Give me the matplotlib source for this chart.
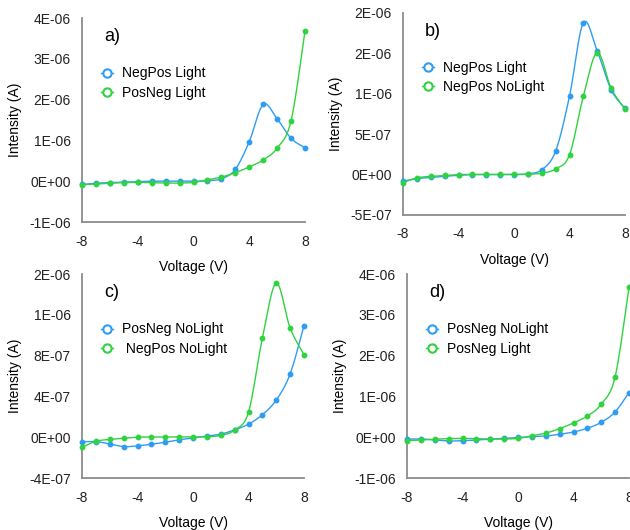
import numpy as np
import matplotlib
matplotlib.use("Agg")
import matplotlib.pyplot as plt
from matplotlib.lines import Line2D

plt.rcParams["font.family"] = ["Liberation Sans", "DejaVu Sans"]
plt.rcParams["axes.unicode_minus"] = False

# data (A)
voltage = np.arange(-8, 9, 1)
negpos_light = np.array([-0.08, -0.05, -0.035, -0.02, -0.01, 0.0, 0.0, 0.0, 0.0,
                         0.01, 0.06, 0.29, 0.97, 1.88, 1.53, 1.05, 0.82]) * 1e-6
negpos_nolight = np.array([-0.10, -0.04, -0.022, -0.01, 0.0, 0.002, 0.002, 0.002, 0.003,
                           0.004, 0.018, 0.07, 0.245, 0.97, 1.51, 1.07, 0.81]) * 1e-6
posneg_light = np.array([-0.085, -0.07, -0.05, -0.035, -0.03, -0.035, -0.045, -0.045, -0.03,
                         0.035, 0.10, 0.21, 0.35, 0.52, 0.81, 1.48, 3.68]) * 1e-6
posneg_nolight = np.array([-0.046, -0.043, -0.066, -0.092, -0.085, -0.069, -0.049, -0.026, -0.007,
                           0.01, 0.03, 0.072, 0.128, 0.22, 0.364, 0.62, 1.095]) * 1e-6

BLUE = "#2f9cf4"
GREEN = "#2fd23f"

panels = [
    # letter, series, legend labels, yticks, ytick labels, axes rect (px: left, top, right, bottom)
    ("a)", [negpos_light, posneg_light], ["NegPos Light", "PosNeg Light"],
     [-1e-6, 0, 1e-6, 2e-6, 3e-6, 4e-6],
     ["-1E-06", "0E+00", "1E-06", "2E-06", "3E-06", "4E-06"],
     (82, 18, 305, 222)),
    ("b)", [negpos_light, negpos_nolight], ["NegPos Light", "NegPos NoLight"],
     [-5e-7, 0, 5e-7, 1e-6, 1.5e-6, 2e-6],
     ["-5E-07", "0E+00", "5E-07", "1E-06", "2E-06", "2E-06"],
     (403, 13, 625, 215)),
    ("c)", [posneg_nolight, negpos_nolight], ["PosNeg NoLight", " NegPos NoLight"],
     [-4e-7, 0, 4e-7, 8e-7, 1.2e-6, 1.6e-6],
     ["-4E-07", "0E+00", "4E-07", "8E-07", "1E-06", "2E-06"],
     (82, 274, 304, 478)),
    ("d)", [posneg_nolight, posneg_light], ["PosNeg NoLight", "PosNeg Light"],
     [-1e-6, 0, 1e-6, 2e-6, 3e-6, 4e-6],
     ["-1E-06", "0E+00", "1E-06", "2E-06", "3E-06", "4E-06"],
     (407, 274, 629, 478)),
]


def smooth(x, y, n=20):
    # Excel-like smoothed line (Catmull-Rom between the measured points)
    xs, ys = [], []
    px = np.concatenate([[x[0]], x, [x[-1]]])
    py = np.concatenate([[y[0]], y, [y[-1]]])
    t = np.linspace(0, 1, n, endpoint=False)
    for i in range(1, len(px) - 2):
        p0, p1, p2, p3 = (np.array([px[j], py[j]]) for j in range(i - 1, i + 3))
        b1 = p1 + (p2 - p0) / 6
        b2 = p2 - (p3 - p1) / 6
        pts = ((1 - t) ** 3)[:, None] * p1 + (3 * (1 - t) ** 2 * t)[:, None] * b1 \
            + (3 * (1 - t) * t ** 2)[:, None] * b2 + (t ** 3)[:, None] * p2
        xs.extend(pts[:, 0])
        ys.extend(pts[:, 1])
    xs.append(x[-1])
    ys.append(y[-1])
    return np.array(xs), np.array(ys)


W, H = 630, 530
fig = plt.figure(figsize=(W / 100, H / 100), dpi=100)

for letter, series, labels, yt, ytl, (l, t, r, b) in panels:
    ax = fig.add_axes([l / W, 1 - b / H, (r - l) / W, (b - t) / H])
    handles = []
    for ys, col, lab in zip(series, [BLUE, GREEN], labels):
        sx, sy = smooth(voltage, ys)
        ax.plot(sx, sy, color=col, lw=1.0, clip_on=False)
        ax.plot(voltage, ys, "o", color=col, ms=3.2, clip_on=False, zorder=3)
        handles.append(Line2D([], [], color=col, lw=1.0, marker="o", ms=6,
                              mfc="white", mec=col, mew=1.5))
    ax.set_xlim(-8, 8)
    ax.set_ylim(yt[0], yt[-1])
    ax.set_xticks([-8, -4, 0, 4, 8])
    ax.set_yticks(yt)
    ax.set_yticklabels(ytl)
    ax.tick_params(length=0, labelsize=10, colors="#222222")
    ax.tick_params(axis="x", pad=9)
    ax.tick_params(axis="y", pad=8)
    for s in ["top", "right"]:
        ax.spines[s].set_visible(False)
    for s in ["left", "bottom"]:
        ax.spines[s].set_color("#8c8c8c")
        ax.spines[s].set_linewidth(1.3)
    ax.set_xlabel("Voltage (V)", fontsize=10, labelpad=8)
    ax.set_ylabel("Intensity (A)", fontsize=10, labelpad=5)
    ax.text(0.1, 0.91, letter, transform=ax.transAxes, fontsize=13, va="center")
    ax.legend(handles=handles, labels=labels, loc="upper left",
              bbox_to_anchor=(0.06, 0.79), frameon=False, fontsize=10,
              handlelength=0.9, handletextpad=0.6, labelspacing=0.38,
              borderaxespad=0)

fig.savefig("out.png", dpi=100)
